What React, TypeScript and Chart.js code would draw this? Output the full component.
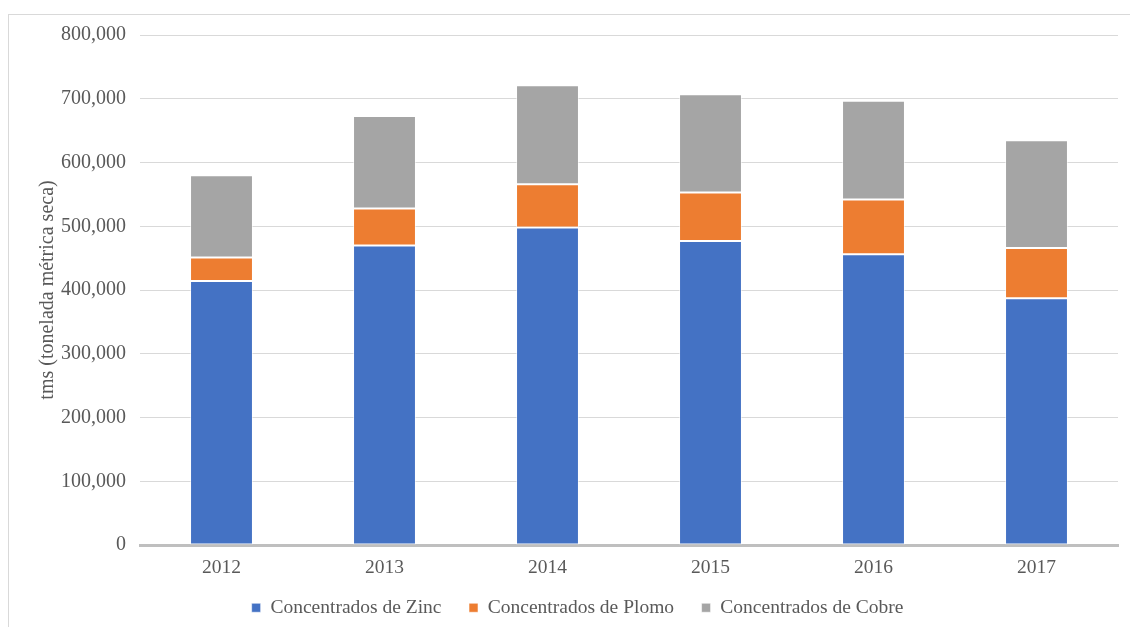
import React, { useEffect, useRef } from "react";
import { Chart, registerables } from "chart.js";

Chart.register(...registerables);

const years = ["2012", "2013", "2014", "2015", "2016", "2017"];
const zinc = [414000, 470000, 498000, 477000, 456000, 387000];
const plomo = [37000, 58000, 68000, 76000, 86000, 79000];
const cobre = [129000, 145000, 155000, 154000, 155000, 169000];
const seriesNames = ["Concentrados de Zinc", "Concentrados de Plomo", "Concentrados de Cobre"];
const yTitle = "tms (tonelada métrica seca)";

const FONT = '"Liberation Serif", "Times New Roman", serif';
const TEXT = "#595959";
const FS = 19.5;
const LEGEND_SHIFT_Y = 14.5;
const LEGEND_SHIFT_X = 14;

const legendShift = {
  id: "legendShift",
  afterLayout(chart: any) {
    const l = chart.legend;
    if (l) {
      l.top -= LEGEND_SHIFT_Y;
      l.bottom -= LEGEND_SHIFT_Y;
      l.left += LEGEND_SHIFT_X;
      l.right += LEGEND_SHIFT_X;
    }
  },
};

export default function App() {
  const ref = useRef<HTMLCanvasElement | null>(null);
  useEffect(() => {
    if (!ref.current) return;
    const border = { borderWidth: 1, borderColor: "rgba(255,255,255,0.55)", borderSkipped: false as const };
    const chart = new Chart(ref.current, {
      type: "bar",
      data: {
        labels: years,
        datasets: [
          { label: seriesNames[0], data: zinc, backgroundColor: "#4472c4", ...border },
          { label: seriesNames[1], data: plomo, backgroundColor: "#ed7d31", ...border },
          { label: seriesNames[2], data: cobre, backgroundColor: "#a5a5a5", ...border },
        ],
      },
      plugins: [legendShift],
      options: {
        animation: false,
        responsive: false,
        maintainAspectRatio: false,
        datasets: { bar: { barPercentage: 0.386, categoryPercentage: 1 } },
        layout: { padding: { top: 20, right: 29, bottom: 6, left: 0 } },
        plugins: {
          tooltip: { enabled: false },
          legend: {
            position: "bottom",
            labels: {
              boxWidth: 9,
              boxHeight: 9,
              padding: 27.5,
              color: TEXT,
              font: { family: FONT, size: FS },
            },
          },
        },
        scales: {
          x: {
            stacked: true,
            grid: { display: false },
            border: { display: true, color: "#bfbfbf", width: 3 },
            ticks: { color: TEXT, font: { family: FONT, size: FS }, padding: 3 },
            afterFit: (s: any) => { s.height = 40; },
          },
          y: {
            stacked: true,
            min: 0,
            max: 800000,
            border: { display: false },
            grid: { color: "#d9d9d9", lineWidth: 1, drawTicks: false },
            ticks: {
              stepSize: 100000,
              padding: 14,
              color: TEXT,
              font: { family: FONT, size: 20 },
              callback: (v: any) => Number(v).toLocaleString("en-US"),
            },
            title: {
              display: true,
              text: yTitle,
              color: TEXT,
              font: { family: FONT, size: 20 },
              padding: { top: 27, bottom: 0 },
            },
            afterFit: (s: any) => {
              s.width = 131;
              s.paddingTop = 0;
              s.paddingBottom = 0;
            },
          },
        },
      },
    });
    return () => chart.destroy();
  }, []);
  return (
    <div
      style={{
        position: "fixed",
        left: 8,
        top: 14,
        width: 1140,
        height: 635,
        border: "1px solid #d9d9d9",
        boxSizing: "border-box",
        background: "#fff",
      }}
    >
      <canvas ref={ref} width={1138} height={633} style={{ display: "block" }} />
    </div>
  );
}
